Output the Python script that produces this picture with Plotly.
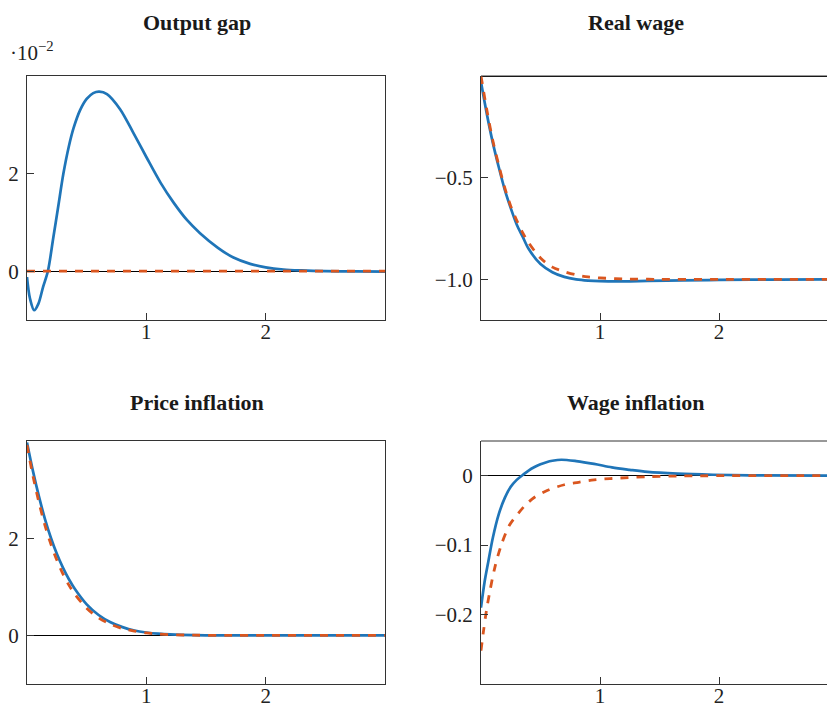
import plotly.graph_objects as go

# ---------------- data ----------------
# Output gap (in units of 1e-2)
og_x = [0, 0.025, 0.06, 0.095, 0.135, 0.175, 0.22, 0.26, 0.305, 0.35, 0.39, 0.445, 0.5, 0.555,
        0.605, 0.67, 0.78, 0.89, 1.0, 1.12, 1.23, 1.34, 1.45, 1.6, 1.73, 1.87, 2.0, 2.15, 2.3,
        2.5, 2.75, 3.0]
og_blue = [-0.12, -0.56, -0.80, -0.67, -0.32, 0.0, 0.68, 1.30, 2.0, 2.55, 2.93, 3.30, 3.53, 3.65,
           3.68, 3.63, 3.32, 2.84, 2.34, 1.81, 1.40, 1.05, 0.78, 0.48, 0.28, 0.15, 0.08, 0.035,
           0.015, 0.0, -0.005, -0.01]
og_x_orange = [0, 3.0]
og_orange = [0.0, 0.0]

# Real wage
rw_x_blue = [0, 0.05, 0.1, 0.15, 0.2, 0.25, 0.3, 0.35, 0.4, 0.5, 0.6, 0.7, 0.8, 0.9, 1.0, 1.2,
             1.4, 1.7, 2.0, 2.5, 3.0]
rw_blue = [-0.03, -0.19, -0.33, -0.45, -0.56, -0.65, -0.73, -0.79, -0.85, -0.925, -0.965, -0.988,
           -1.0, -1.006, -1.009, -1.01, -1.008, -1.005, -1.003, -1.001, -1.0]
rw_x_orange = [0, 0.05, 0.1, 0.15, 0.2, 0.25, 0.3, 0.35, 0.4, 0.5, 0.6, 0.7, 0.8, 0.9, 1.0, 1.2,
               1.5, 2.0, 3.0]
rw_orange = [0.0, -0.17, -0.32, -0.44, -0.55, -0.64, -0.71, -0.77, -0.82, -0.895, -0.94, -0.962,
             -0.978, -0.988, -0.993, -0.998, -1.0, -1.0, -1.0]

# Price inflation
pi_x = [0, 0.05, 0.1, 0.15, 0.2, 0.25, 0.3, 0.35, 0.4, 0.5, 0.6, 0.7, 0.8, 0.9, 1.0, 1.1, 1.2,
        1.4, 1.7, 2.0, 3.0]
pi_blue = [3.97, 3.38, 2.86, 2.40, 2.01, 1.68, 1.40, 1.16, 0.96, 0.64, 0.42, 0.27, 0.17, 0.10,
           0.06, 0.035, 0.02, 0.005, 0.0, 0.0, 0.0]
pi_orange = [3.92, 3.28, 2.74, 2.27, 1.88, 1.55, 1.27, 1.04, 0.85, 0.56, 0.36, 0.23, 0.14, 0.09,
             0.05, 0.03, 0.015, 0.005, 0.0, 0.0, 0.0]

# Wage inflation
wi_x_blue = [0, 0.03, 0.06, 0.1, 0.15, 0.2, 0.25, 0.3, 0.35, 0.4, 0.45, 0.5, 0.55, 0.6, 0.675,
             0.8, 0.95, 1.1, 1.25, 1.4, 1.65, 1.95, 2.3, 3.0]
wi_blue = [-0.19, -0.153, -0.125, -0.089, -0.055, -0.032, -0.016, -0.006, 0.001, 0.0075, 0.0125,
           0.0165, 0.0195, 0.0215, 0.023, 0.021, 0.017, 0.012, 0.0085, 0.0055, 0.003, 0.0014,
           0.0005, 0.0]
wi_x_orange = [0, 0.02, 0.045, 0.075, 0.115, 0.17, 0.24, 0.31, 0.37, 0.45, 0.56, 0.7, 0.82, 0.95,
               1.1, 1.4, 1.65, 2.0, 3.0]
wi_orange = [-0.252, -0.225, -0.195, -0.166, -0.133, -0.10, -0.071, -0.055, -0.043, -0.031,
             -0.021, -0.013, -0.0095, -0.006, -0.004, -0.0015, -0.0005, 0.0, 0.0]

# Titles and ticks
titles = ["Output gap", "Real wage", "Price inflation", "Wage inflation"]
x_tickvals = [1, 2]
x_ticktext = ["1", "2"]
og_tickvals = [0, 2]
og_ticktext = ["0", "2"]
rw_tickvals = [-0.5, -1.0]
rw_ticktext = ["\u22120.5", "\u22121.0"]
pi_tickvals = [0, 2]
pi_ticktext = ["0", "2"]
wi_tickvals = [0, -0.1, -0.2]
wi_ticktext = ["0", "\u22120.1", "\u22120.2"]
scale_label = "\u00b710<sup>\u22122</sup>"

# ---------------- styling ----------------
OFF = 8                     # default page body margin
W, H = 835 - OFF, 710 - OFF
BLUE = "#1F75B8"
ORANGE = "#DA561F"
FONT = "Liberation Serif"
AX = "#333333"


def px(p):   # page x pixel -> paper fraction
    return (p - OFF) / W


def py(p):   # page y pixel -> paper fraction (from bottom)
    return 1 - (p - OFF) / H


fig = go.Figure()


def add_pair(xb, yb, xo, yo, xa, ya):
    fig.add_trace(go.Scatter(x=xb, y=yb, mode="lines", xaxis=xa, yaxis=ya,
                             line=dict(color=BLUE, width=2.7, shape="spline", smoothing=0.9),
                             hoverinfo="skip", showlegend=False))
    fig.add_trace(go.Scatter(x=xo, y=yo, mode="lines", xaxis=xa, yaxis=ya,
                             line=dict(color=ORANGE, width=2.8, dash="8px,8px", shape="spline",
                                       smoothing=0.9),
                             hoverinfo="skip", showlegend=False))


add_pair(og_x, og_blue, og_x_orange, og_orange, "x", "y")
add_pair(rw_x_blue, rw_blue, rw_x_orange, rw_orange, "x2", "y2")
add_pair(pi_x, pi_blue, pi_x, pi_orange, "x3", "y3")
add_pair(wi_x_blue, wi_blue, wi_x_orange, wi_orange, "x4", "y4")

left_dom = [px(27), px(385)]
right_dom = [px(481), 1.0]
top_dom = [py(320), py(76)]
bot_dom = [py(684), py(441)]
right_xmax = (835 - 481) / 119.0


def xaxis(dom, anchor, rng, mirror):
    return dict(domain=dom, anchor=anchor, range=rng, showline=True, linecolor=AX, linewidth=1,
                mirror=mirror, ticks="inside", ticklen=7, tickcolor=AX, tickwidth=1,
                tickvals=x_tickvals, ticktext=x_ticktext, showgrid=False, zeroline=False,
                tickfont=dict(family=FONT, size=21, color="#222"), ticklabelstandoff=-7,
                fixedrange=True)


def yaxis(dom, anchor, rng, tv, tt, mirror):
    return dict(domain=dom, anchor=anchor, range=rng, showline=True, linecolor=AX, linewidth=1,
                mirror=mirror, ticks="inside", ticklen=7, tickcolor=AX, tickwidth=1,
                tickvals=tv, ticktext=tt, showgrid=False, zeroline=True, zerolinecolor="black",
                zerolinewidth=1, tickfont=dict(family=FONT, size=21, color="#222"),
                ticklabelstandoff=3, fixedrange=True)


fig.update_layout(
    width=W, height=H, margin=dict(l=0, r=0, t=0, b=0),
    paper_bgcolor="white", plot_bgcolor="white", showlegend=False,
    xaxis=xaxis(left_dom, "y", [0, 3], True),
    yaxis=yaxis(top_dom, "x", [-1, 4], og_tickvals, og_ticktext, True),
    xaxis2=xaxis(right_dom, "y2", [0, right_xmax], False),
    yaxis2=yaxis(top_dom, "x2", [-1.2, 0.0], rw_tickvals, rw_ticktext, False),
    xaxis3=xaxis(left_dom, "y3", [0, 3], True),
    yaxis3=yaxis(bot_dom, "x3", [-1, 4], pi_tickvals, pi_ticktext, True),
    xaxis4=xaxis(right_dom, "y4", [0, right_xmax], False),
    yaxis4=yaxis(bot_dom, "x4", [-0.3, 0.05], wi_tickvals, wi_ticktext, False),
)

# top borders of the right-hand panels (their right edge is cut by the page)
for xa, ya in (("x2", "y2"), ("x4", "y4")):
    fig.add_shape(type="line", xref=f"{xa} domain", yref=f"{ya} domain", x0=0, x1=1, y0=1, y1=1,
                  line=dict(color=AX, width=1))

title_pos = [(197, 22), (636, 22), (197, 402), (636, 402)]
for t, (tx, ty) in zip(titles, title_pos):
    fig.add_annotation(text=f"<b>{t}</b>", x=px(tx), y=py(ty), xref="paper", yref="paper",
                       xanchor="center", yanchor="middle", showarrow=False,
                       font=dict(family=FONT, size=22, color="#1a1a1a"))

fig.add_annotation(text=scale_label, x=0, y=py(52), xref="paper", yref="paper",
                   xanchor="left", yanchor="middle", showarrow=False,
                   font=dict(family=FONT, size=21, color="#222"))

fig.write_html("out.html")
